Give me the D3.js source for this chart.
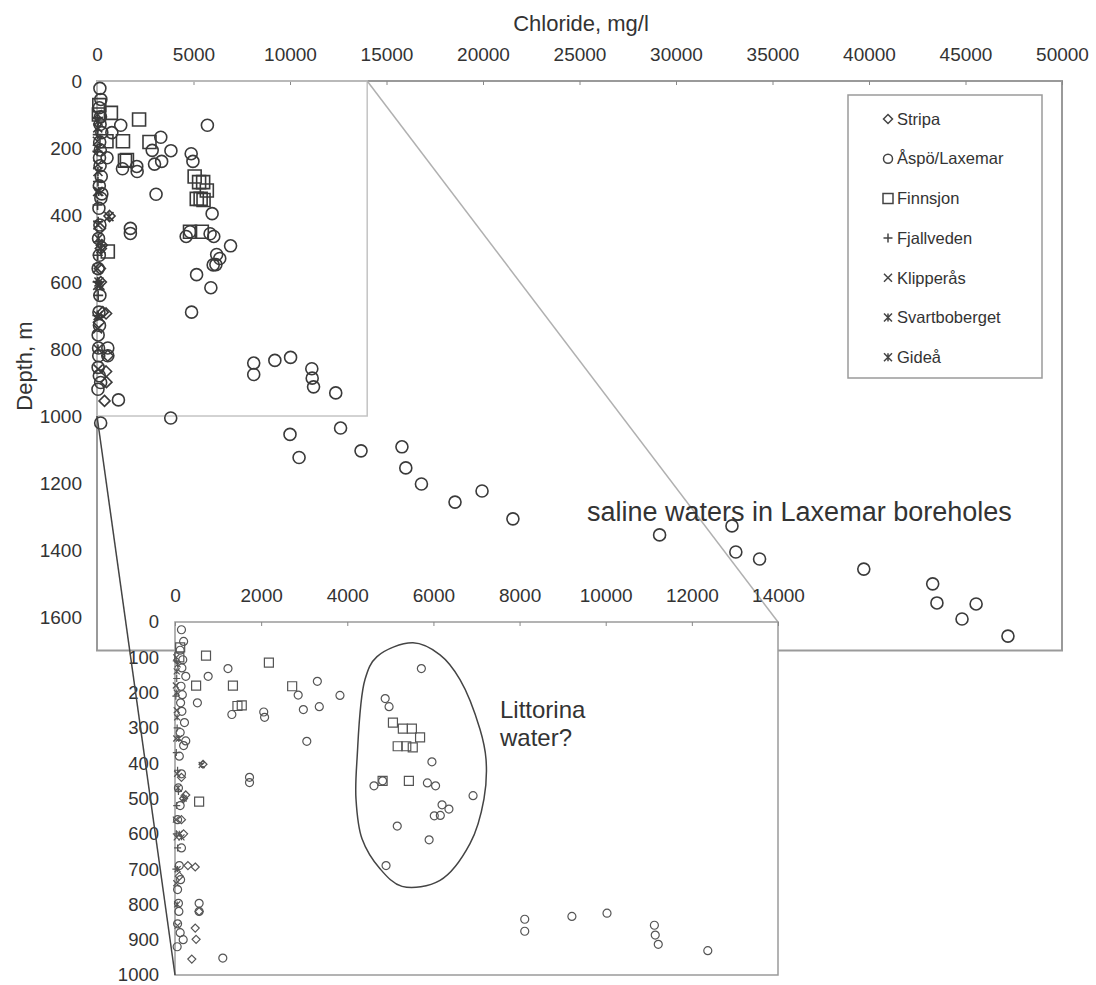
<!DOCTYPE html>
<html>
<head>
<meta charset="utf-8">
<script src="https://cdn.jsdelivr.net/npm/d3@7"></script>
<style>
  body { margin: 0; background: #fff; }
  svg { display: block; font-family: "Liberation Sans", Arial, sans-serif; }
</style>
</head>
<body>
<svg id="chart" width="1096" height="985"></svg>
<script>
// ---- data: [chloride mg/l, depth m] ----
const stripa = [[650,403],[150,440],[250,490],[200,500],[150,560],[200,600],[300,690],[470,694],[100,720],[560,820],[470,867],[490,899],[390,955]];
const aspo = [
  [150,22],[200,55],[120,80],[180,107],[160,130],[250,154],[140,182],[170,206],[130,229],[160,253],[220,285],[120,313],
  [250,337],[200,350],[100,380],[150,430],[80,470],[120,520],[60,560],[150,640],[100,690],[130,730],[60,758],[80,797],
  [90,820],[60,855],[120,880],[190,900],[50,920],[190,1021],
  [770,154],[1230,132],[520,229],[1320,262],[2060,255],[2080,270],[2860,207],[3305,168],[3830,208],[2980,248],[3350,240],
  [3060,338],[5720,132],[4880,217],[4970,240],[1730,440],[1730,455],[5965,396],[4620,464],[4820,450],[5860,456],[6050,464],
  [6920,492],[6200,518],[6360,530],[6020,549],[6160,548],[5160,578],[5900,617],[4900,690],[560,797],[560,820],[1110,952],
  [3820,1006],[8120,842],[8120,876],[9215,834],[10030,825],[11130,859],[11150,887],[11220,913],[12370,931],
  [10000,1055],[10470,1124],[12620,1036],[13680,1104],[15800,1092],[16000,1155],[16810,1203],[18550,1257],[19950,1224],
  [21550,1307],[29150,1355],[32900,1328],[33100,1406],[34330,1427],[39730,1457],[43300,1501],[43520,1558],[44820,1606],
  [45550,1561],[47200,1657]
];
const finnsjon = [[120,72],[100,100],[720,95],[2180,115],[490,180],[1345,180],[2720,182],[1450,238],[1550,236],[5060,285],[5290,302],
  [5500,302],[5690,327],[5170,352],[5370,352],[5520,355],[4820,450],[5430,450],[560,509]];
const fjallveden = [[30,110],[40,160],[20,210],[50,300],[30,370],[60,420],[80,480],[40,520],[30,600],[60,640],[20,700]];
const klipperas = [[30,100],[20,180],[40,250],[30,330],[50,430],[20,560],[40,610],[30,740],[60,860]];
const svartboberget = [[60,120],[40,200],[90,330],[620,405],[70,470],[100,600],[60,700],[50,800]];
const gidea = [[40,140],[50,270],[200,500],[150,610]];

const seriesNames = ["Stripa", "Åspö/Laxemar", "Finnsjon", "Fjallveden", "Klipperås", "Svartboberget", "Gideå"];
const seriesData = [stripa, aspo, finnsjon, fjallveden, klipperas, svartboberget, gidea];
const seriesShapes = ["diamond", "circle", "square", "plus", "cross", "star", "star"];

const mainXTicks = d3.range(0, 50001, 5000);
const mainYTicks = d3.range(0, 1601, 200);
const insetXTicks = d3.range(0, 14001, 2000);
const insetYTicks = d3.range(0, 1001, 100);

// outline of the Littorina group, in inset data units
const littorinaOutline = [[5526,59],[6153,93],[6617,163],[7081,304],[7221,389],[7174,501],[6849,628],[6153,732],
  [5270,749],[4760,699],[4342,614],[4202,501],[4226,389],[4411,163],[4690,98]];

// ---- layout ----
const svg = d3.select("#chart");
const font = '"Liberation Sans", Arial, sans-serif';

const x = d3.scaleLinear().domain([0, 50000]).range([97, 1062]);
const y = d3.scaleLinear().domain([0, 1700]).range([81, 650.5]);
const ix = d3.scaleLinear().domain([0, 14000]).range([175, 778]);
const iy = d3.scaleLinear().domain([0, 1000]).range([622, 975]);

function shapePath(type, s) {
  switch (type) {
    case "circle": return `M${s},0A${s},${s} 0 1,1 ${-s},0A${s},${s} 0 1,1 ${s},0Z`;
    case "square": return `M${-s},${-s}H${s}V${s}H${-s}Z`;
    case "diamond": return `M0,${-s}L${s},0L0,${s}L${-s},0Z`;
    case "plus": return `M${-s},0H${s}M0,${-s}V${s}`;
    case "cross": return `M${-s},${-s}L${s},${s}M${-s},${s}L${s},${-s}`;
    case "star": return `M${-s},${-s}L${s},${s}M${-s},${s}L${s},${-s}M0,${-s}V${s}`;
  }
}
const mainSize = {circle: 6, square: 6.5, diamond: 5.5, plus: 5, cross: 4.5, star: 4.5};
const insetSize = {circle: 4, square: 4.5, diamond: 4, plus: 3.5, cross: 3, star: 3};
const legendSize = {circle: 4.5, square: 5, diamond: 4.5, plus: 4.5, cross: 4, star: 4};

function styleAxis(g, size) {
  g.select(".domain").remove();
  g.selectAll("text").attr("font-family", font).attr("font-size", size).attr("fill", "#333");
  g.selectAll("line").attr("stroke", "#888");
}

// main plot frame
svg.append("rect").attr("x", x(0)).attr("y", y(0)).attr("width", x(50000) - x(0)).attr("height", y(1700) - y(0))
  .attr("fill", "none").attr("stroke", "#9a9a9a").attr("stroke-width", 2);

svg.append("g").attr("transform", `translate(0,${y(0)})`)
  .call(d3.axisTop(x).tickValues(mainXTicks).tickSizeInner(-4).tickSizeOuter(0).tickPadding(20).tickFormat(d3.format("d")))
  .call(g => styleAxis(g, 19));
svg.append("g").attr("transform", `translate(${x(0)},0)`)
  .call(d3.axisLeft(y).tickValues(mainYTicks).tickSizeInner(0).tickSizeOuter(0).tickPadding(15).tickFormat(d3.format("d")))
  .call(g => styleAxis(g, 19));

// zoom window 0-14000 mg/l, 0-1000 m
svg.append("rect").attr("x", x(0)).attr("y", y(0)).attr("width", x(14000) - x(0)).attr("height", y(1000) - y(0))
  .attr("fill", "none").attr("stroke", "#c4c4c4").attr("stroke-width", 1.5);

// main markers
seriesData.forEach((data, k) => {
  const shape = seriesShapes[k];
  svg.append("g").selectAll("path").data(data).join("path")
    .attr("transform", d => `translate(${x(d[0])},${y(d[1])})`)
    .attr("d", shapePath(shape, mainSize[shape]))
    .attr("fill", "none").attr("stroke", "#3a3a3a").attr("stroke-width", 1.6);
});

// legend
const legend = svg.append("g");
legend.append("rect").attr("x", 848).attr("y", 95).attr("width", 194).attr("height", 283)
  .attr("fill", "#fff").attr("stroke", "#9a9a9a").attr("stroke-width", 1.5);
seriesNames.forEach((name, k) => {
  const cy = 119 + k * 39.7;
  const shape = seriesShapes[k];
  legend.append("path").attr("transform", `translate(888,${cy})`).attr("d", shapePath(shape, legendSize[shape]))
    .attr("fill", "none").attr("stroke", "#444").attr("stroke-width", 1.5);
  legend.append("text").attr("x", 897).attr("y", cy).attr("dy", "0.35em")
    .attr("font-family", font).attr("font-size", 16.5).attr("fill", "#333").text(name);
});

// connector from zoom window corner to inset corner
svg.append("line").attr("x1", x(14000)).attr("y1", y(0)).attr("x2", ix(14000)).attr("y2", iy(0))
  .attr("stroke", "#b0b0b0").attr("stroke-width", 1.5);

svg.append("text").attr("x", 587).attr("y", 521).attr("font-family", font).attr("font-size", 27).attr("fill", "#333")
  .text("saline waters in Laxemar boreholes");

// ---- inset ----
svg.append("rect").attr("x", ix(0)).attr("y", iy(0)).attr("width", ix(14000) - ix(0)).attr("height", iy(1000) - iy(0))
  .attr("fill", "#fff").attr("stroke", "#9a9a9a").attr("stroke-width", 1.5);

svg.append("g").attr("transform", `translate(0,${iy(0)})`)
  .call(d3.axisTop(ix).tickValues(insetXTicks).tickSizeInner(-4).tickSizeOuter(0).tickPadding(20).tickFormat(d3.format("d")))
  .call(g => styleAxis(g, 19));
svg.append("g").attr("transform", `translate(${ix(0)},0)`)
  .call(d3.axisLeft(iy).tickValues(insetYTicks).tickSizeInner(0).tickSizeOuter(0).tickPadding(16).tickFormat(d3.format("d")))
  .call(g => styleAxis(g, 18.5));

seriesData.forEach((data, k) => {
  const shape = seriesShapes[k];
  svg.append("g").selectAll("path").data(data.filter(d => d[0] <= 14000 && d[1] <= 1000)).join("path")
    .attr("transform", d => `translate(${ix(d[0])},${iy(d[1])})`)
    .attr("d", shapePath(shape, insetSize[shape]))
    .attr("fill", "none").attr("stroke", "#555").attr("stroke-width", 1.2);
});

svg.append("path")
  .attr("d", d3.line().x(d => ix(d[0])).y(d => iy(d[1])).curve(d3.curveCatmullRomClosed)(littorinaOutline))
  .attr("fill", "none").attr("stroke", "#444").attr("stroke-width", 1.5);

const lit = svg.append("text").attr("font-family", font).attr("font-size", 24).attr("fill", "#333");
lit.append("tspan").attr("x", 500).attr("y", 718).text("Littorina");
lit.append("tspan").attr("x", 500).attr("y", 746).text("water?");

// connector from zoom window bottom-left to inset bottom-left
svg.append("line").attr("x1", x(0)).attr("y1", y(1000)).attr("x2", ix(0)).attr("y2", iy(1000))
  .attr("stroke", "#444").attr("stroke-width", 1.5);

// axis titles
svg.append("text").attr("x", 581).attr("y", 31).attr("text-anchor", "middle")
  .attr("font-family", font).attr("font-size", 22).attr("fill", "#333").text("Chloride, mg/l");
svg.append("text").attr("transform", "translate(32,366) rotate(-90)").attr("text-anchor", "middle")
  .attr("font-family", font).attr("font-size", 22).attr("fill", "#333").text("Depth, m");
</script>
</body>
</html>
